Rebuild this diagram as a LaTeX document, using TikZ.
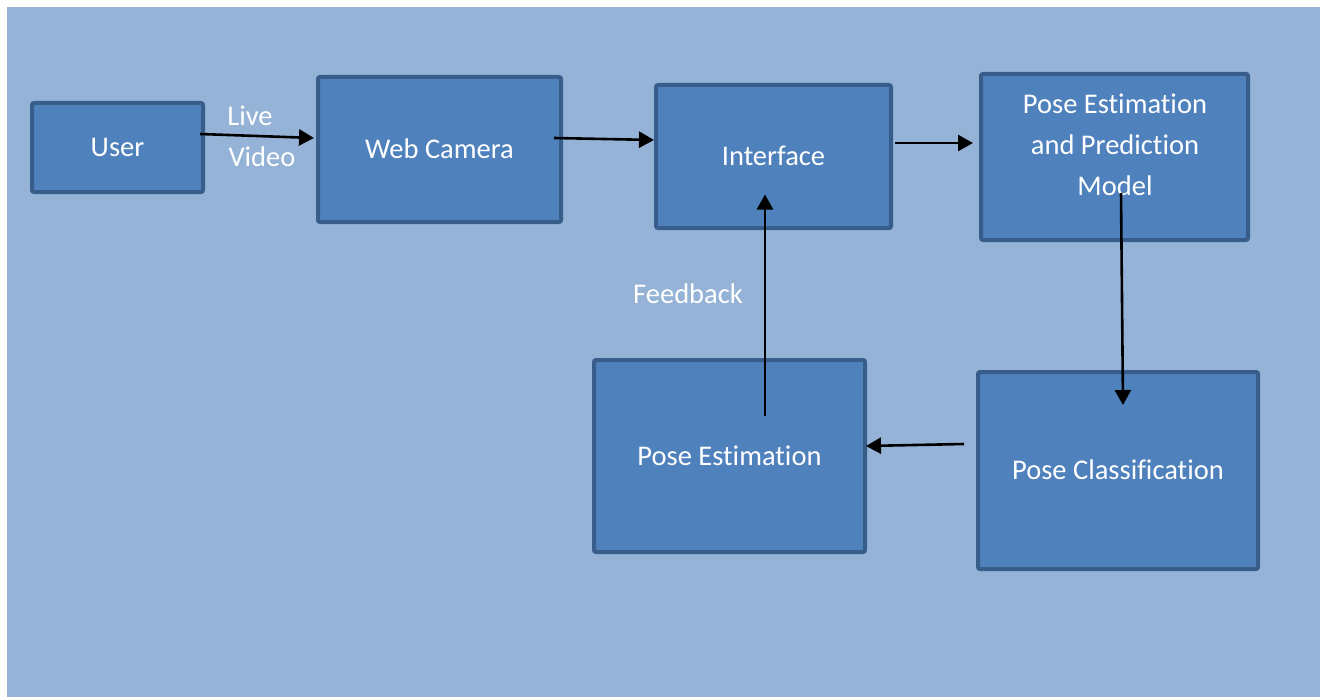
\documentclass[tikz,border=0pt]{standalone}
\usepackage{fontspec}
\setmainfont{Carlito}[Ligatures=NoCommon]
\usetikzlibrary{arrows.meta,calc}
\definecolor{bgblue}{HTML}{95B3D7}
\definecolor{boxfill}{HTML}{4F81BD}
\definecolor{boxline}{HTML}{385D8A}
\tikzset{
  box/.style={draw=boxline, fill=boxfill, line width=4pt, rounded corners=2pt,
    text=white, font=\fontsize{28.5}{41}\selectfont, align=center, inner sep=0pt},
  lbl/.style={text=white, font=\fontsize{28.5}{41}\selectfont, inner sep=0pt},
  arr/.style={draw=black, line width=2.6pt, -{Triangle[length=15pt,width=16pt]}}
}
\begin{document}
\begin{tikzpicture}[x=1pt,y=-1pt]
\useasboundingbox (0,0) rectangle (1320,698);
\fill[white] (0,0) rectangle (1320,698);
\fill[bgblue] (7,7) rectangle (1320,697);
\node[box, minimum width=171pt, minimum height=89pt] (user) at (117.5,147.5) {\raisebox{1pt}{User}};
\node[box, minimum width=243pt, minimum height=145pt] (cam) at (439.5,149.5) {\raisebox{1.5pt}{Web Camera}};
\node[box, minimum width=235pt, minimum height=143pt] (iface) at (773.5,156.5) {\raisebox{1.5pt}{Interface}};
\node[box, minimum width=267pt, minimum height=166pt] (model) at (1114.5,157) {};
\node[lbl, align=center, font=\fontsize{28.5}{41}\selectfont] (modeltext) at (1115,145) {Pose Estimation\\and Prediction\\Model};
\node[box, minimum width=280pt, minimum height=197pt] (cls) at (1118,470.5) {\raisebox{1.5pt}{Pose Classification}};
\node[box, minimum width=271pt, minimum height=192pt] (pest) at (729.5,456) {Pose Estimation};
\node[lbl] (live) at (250,116) {Live};
\node[lbl] (video) at (262,157) {Video};
\node[lbl] (fb) at (688,294) {Feedback};
\draw[arr] ($(user.east)+(-5,-13.5)$) -- ($(cam.west)+(-2,-11.5)$);
\draw[arr] ($(cam.east)+(-9,-11.5)$) -- ($(iface.west)+(0,-16.5)$);
\draw[arr] ($(iface.east)+(2,-13.5)$) -- ($(model.west)+(-6,-14)$);
\draw[arr] ($(model.center)+(6.5,36)$) -- ($(cls.north)+(5,35)$);
\draw[arr] ($(cls.west)+(-12,-26.5)$) -- ($(pest.east)+(-1,-10)$);
\draw[arr] ($(pest.north)+(35.5,58)$) -- ($(iface.south)+(-8.5,-35.5)$);
\end{tikzpicture}
\end{document}
